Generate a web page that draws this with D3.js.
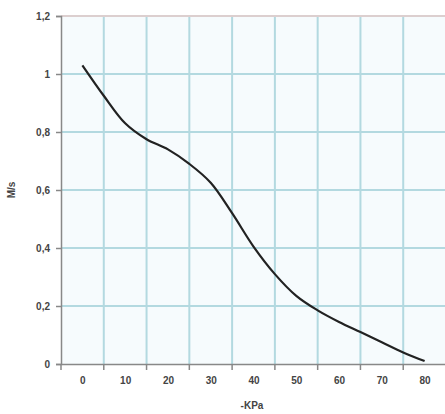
<!DOCTYPE html>
<html><head><meta charset="utf-8">
<script src="https://cdn.jsdelivr.net/npm/d3@7/dist/d3.min.js"></script>
<style>body{margin:0;background:#fff}svg{display:block}</style>
</head><body>
<script>
const pressure = [0,5,10,15,20,25,30,35,40,45,50,55,60,65,70,75,80];
const flow = [1.03,0.925,0.83,0.775,0.74,0.69,0.625,0.52,0.405,0.31,0.235,0.185,0.145,0.11,0.075,0.04,0.01];
const xTicks = [0,10,20,30,40,50,60,70,80];
const xGrid = [5,15,25,35,45,55,65,75];
const yTicks = [0,0.2,0.4,0.6,0.8,1,1.2];
const xTitle = "-KPa";
const yTitle = "M/s";

const W=445,H=414;
const svg=d3.select("body").append("svg").attr("width",W).attr("height",H);
const x=d3.scaleLinear().domain([-5,85]).range([61,446]);
const y=d3.scaleLinear().domain([0,1.2]).range([364,16]);

svg.append("rect").attr("x",x(-5)).attr("y",y(1.2)).attr("width",x(85)-x(-5)).attr("height",y(0)-y(1.2)).attr("fill","#f6fbfd");

svg.append("g").selectAll("line").data(xGrid).join("line")
 .attr("x1",d=>x(d)).attr("x2",d=>x(d)).attr("y1",y(1.2)).attr("y2",y(0))
 .attr("stroke","#b3d9e0").attr("stroke-width",2);
svg.append("g").selectAll("line").data(yTicks.filter(d=>d>0)).join("line")
 .attr("x1",x(-5)).attr("x2",x(85)).attr("y1",d=>y(d)).attr("y2",d=>y(d))
 .attr("stroke",d=>d===1.2?"#dccfcf":"#b3d9e0").attr("stroke-width",2);

const fmt=d=>String(+d.toFixed(1)).replace(".",",");
const yAxis=svg.append("g").attr("transform",`translate(${x(-5)},0)`)
 .call(d3.axisLeft(y).tickValues(yTicks).tickFormat(fmt).tickSize(5).tickPadding(6));
const xAxis=svg.append("g").attr("transform",`translate(0,${y(0)})`)
 .call(d3.axisBottom(x).tickValues(xTicks).tickFormat(d=>d).tickSize(0).tickPadding(13));
xAxis.append("g").selectAll("line").data([-5].concat(xGrid)).join("line")
 .attr("x1",d=>x(d)).attr("x2",d=>x(d)).attr("y1",0).attr("y2",6).attr("stroke","#888").attr("stroke-width",1.5);
[yAxis,xAxis].forEach(g=>{
 g.select(".domain").attr("stroke","#888").attr("stroke-width",1.5);
 g.selectAll(".tick line").attr("stroke","#888").attr("stroke-width",1.5);
 g.selectAll("text").attr("fill","#444").attr("font-family","Liberation Sans, Arial, sans-serif").attr("font-size",10).attr("font-weight","bold");
});

svg.append("path").datum(pressure.map((p,i)=>[p,flow[i]]))
 .attr("d",d3.line().x(d=>x(d[0])).y(d=>y(d[1])).curve(d3.curveCatmullRom.alpha(0.5)))
 .attr("fill","none").attr("stroke","#222").attr("stroke-width",2.2);

svg.append("text").attr("x",252).attr("y",409).attr("text-anchor","middle")
 .attr("font-family","Liberation Sans, Arial, sans-serif").attr("font-size",10).attr("font-weight","bold").attr("fill","#444").text(xTitle);
svg.append("text").attr("transform","translate(15,190) rotate(-90)").attr("text-anchor","middle")
 .attr("font-family","Liberation Sans, Arial, sans-serif").attr("font-size",10).attr("font-weight","bold").attr("fill","#444").text(yTitle);
</script>
</body></html>
